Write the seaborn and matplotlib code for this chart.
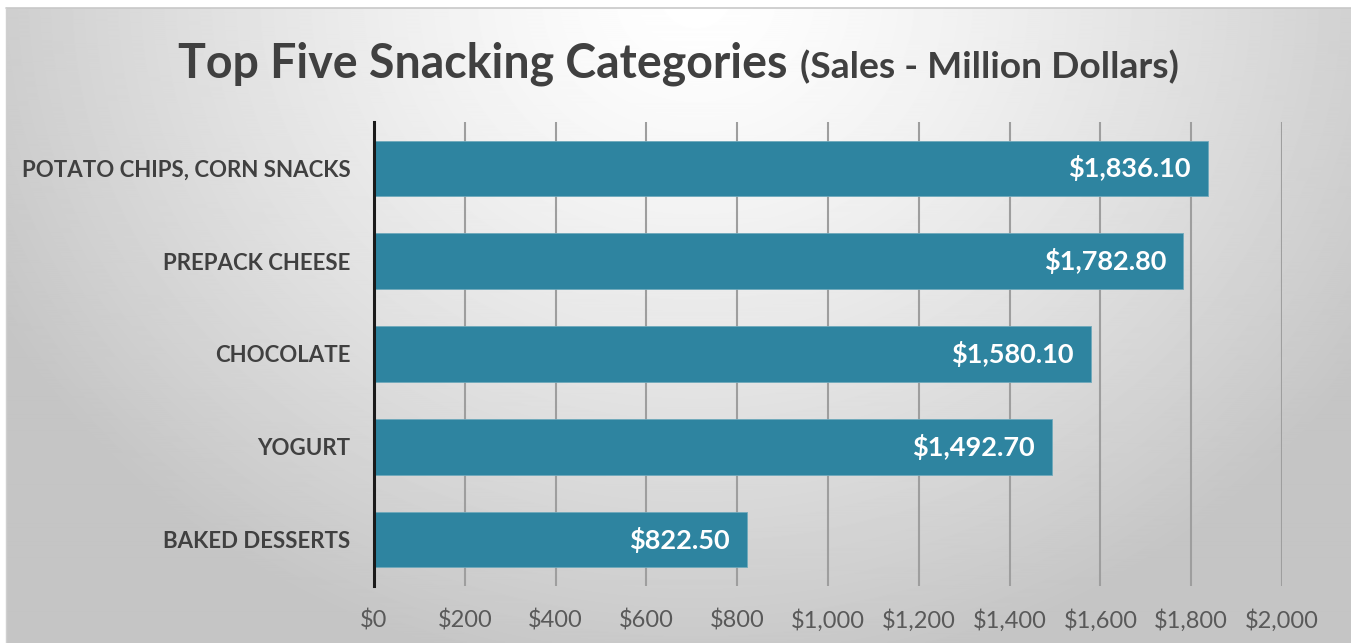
import numpy as np
import pandas as pd
import matplotlib
matplotlib.use("Agg")
import matplotlib.pyplot as plt
import seaborn as sns

categories = ["POTATO CHIPS, CORN SNACKS", "PREPACK CHEESE", "CHOCOLATE",
              "YOGURT", "BAKED DESSERTS"]
sales = [1836.10, 1782.80, 1580.10, 1492.70, 822.50]
x_ticks = [0, 200, 400, 600, 800, 1000, 1200, 1400, 1600, 1800, 2000]

df = pd.DataFrame({"category": categories, "sales": sales})

sns.set_theme(style="white")
plt.rcParams["font.family"] = ["Lato", "DejaVu Sans"]

W, H = 1351, 643
fig = plt.figure(figsize=(W / 100, H / 100), dpi=100)
fig.patch.set_facecolor("white")

# soft radial grey backdrop, brightest near the top centre
bg = fig.add_axes([6 / W, 0, 1 - 6 / W, 1 - 8 / H], zorder=-10)
yy, xx = np.mgrid[0:640, 0:1345]
d = np.sqrt(((xx - 690) / 820.0) ** 2 + ((yy + 10) / 720.0) ** 2)
val = np.clip(1.0 - 0.24 * d ** 1.3, 0.77, 1.0)
bg.imshow(val, cmap="gray", vmin=0, vmax=1, aspect="auto",
          extent=[0, 1, 0, 1], origin="upper", interpolation="bilinear")
bg.set_axis_off()
fig.add_artist(plt.Line2D([6 / W, 1], [1 - 8 / H, 1 - 8 / H],
                          color="#c8c8c8", lw=1.2))
fig.add_artist(plt.Line2D([6 / W, 6 / W], [0, 1 - 8 / H],
                          color="#d0d0d0", lw=1.0))

ax = fig.add_axes([374 / W, 1 - 586 / H, (1282 - 374) / W, (586 - 122) / H])
ax.set_facecolor("none")

sns.barplot(data=df, x="sales", y="category", orient="h", color="#2e84a0",
            saturation=1, width=0.6, edgecolor="#6fa9bb", linewidth=0.6,
            ax=ax, zorder=3)

ax.set_xlim(0, 2000)
ax.set_ylim(len(categories) - 0.5, -0.5)
ax.set_xticks(x_ticks)
ax.set_xticklabels([f"${v:,.0f}" for v in x_ticks])
ax.set_xlabel("")
ax.set_ylabel("")

ax.grid(axis="x", color="#9e9e9e", lw=1.5, zorder=0)
ax.grid(axis="y", visible=False)
for s in ["top", "right", "bottom"]:
    ax.spines[s].set_visible(False)
ax.spines["left"].set_color("#1a1a1a")
ax.spines["left"].set_linewidth(2.2)
ax.spines["left"].set_zorder(4)

ax.tick_params(axis="x", length=0, pad=17, labelsize=17, labelcolor="#595959")
ax.tick_params(axis="y", length=0, pad=17, labelsize=16, labelcolor="#404040")
for lab in ax.get_yticklabels():
    lab.set_fontweight("bold")

for i, v in enumerate(sales):
    ax.annotate(f"${v:,.2f}", xy=(v, i), xytext=(-12.5, 0),
                textcoords="offset points", ha="right", va="center",
                color="white", fontsize=19.5, fontweight="bold", zorder=5)

fig.text(178 / W, 1 - 78 / H, "Top Five Snacking Categories", fontsize=33.5,
         fontweight="bold", color="#404040", ha="left", va="baseline")
fig.text(800 / W, 1 - 78 / H, "(Sales - Million Dollars)", fontsize=26.8,
         fontweight="bold", color="#404040", ha="left", va="baseline")

fig.savefig("out.png", dpi=100)
